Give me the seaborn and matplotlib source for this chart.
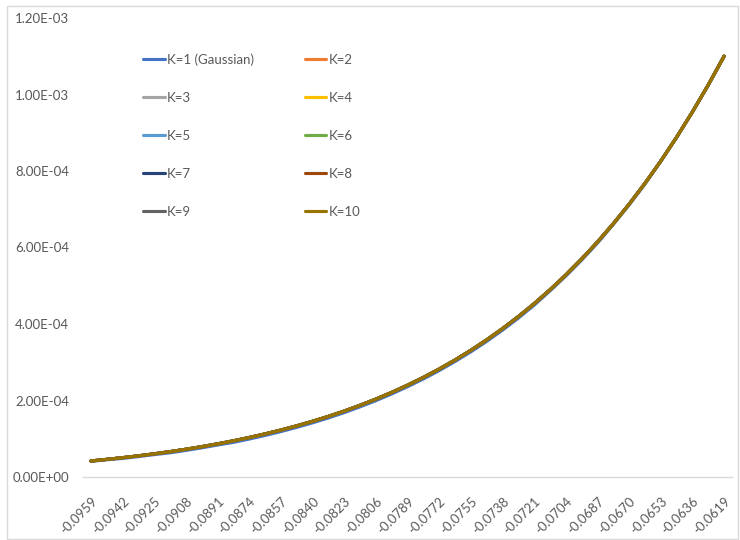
import matplotlib
matplotlib.use("Agg")
import matplotlib.pyplot as plt
from matplotlib.patches import Rectangle
from matplotlib.ticker import FuncFormatter, FixedLocator
import numpy as np
import pandas as pd
import seaborn as sns

# Category positions (log-return thresholds), step 0.00085
x_values = [
    -0.09590, -0.09505, -0.09420, -0.09335, -0.09250, -0.09165, -0.09080,
    -0.08995, -0.08910, -0.08825, -0.08740, -0.08655, -0.08570, -0.08485,
    -0.08400, -0.08315, -0.08230, -0.08145, -0.08060, -0.07975, -0.07890,
    -0.07805, -0.07720, -0.07635, -0.07550, -0.07465, -0.07380, -0.07295,
    -0.07210, -0.07125, -0.07040, -0.06955, -0.06870, -0.06785, -0.06700,
    -0.06615, -0.06530, -0.06445, -0.06360, -0.06275, -0.06190,
]

# Gaussian case (K=1)
k1_values = [
    4.090e-5, 4.506e-5, 4.849e-5, 5.332e-5, 5.857e-5, 6.328e-5, 6.950e-5,
    7.625e-5, 8.358e-5, 9.055e-5, 9.920e-5, 1.086e-4, 1.187e-4, 1.297e-4,
    1.416e-4, 1.544e-4, 1.683e-4, 1.834e-4, 1.996e-4, 2.171e-4, 2.360e-4,
    2.563e-4, 2.782e-4, 3.018e-4, 3.272e-4, 3.545e-4, 3.838e-4, 4.153e-4,
    4.491e-4, 4.864e-4, 5.252e-4, 5.669e-4, 6.114e-4, 6.602e-4, 7.112e-4,
    7.657e-4, 8.259e-4, 8.882e-4, 9.545e-4, 1.025e-3, 1.100e-3,
]

# Mixture cases K=2..10 (indistinguishable at this scale)
kmix_values = [
    4.190e-5, 4.606e-5, 5.049e-5, 5.532e-5, 6.057e-5, 6.628e-5, 7.250e-5,
    7.925e-5, 8.658e-5, 9.455e-5, 1.032e-4, 1.126e-4, 1.227e-4, 1.337e-4,
    1.456e-4, 1.584e-4, 1.723e-4, 1.874e-4, 2.036e-4, 2.211e-4, 2.400e-4,
    2.603e-4, 2.822e-4, 3.058e-4, 3.312e-4, 3.585e-4, 3.878e-4, 4.193e-4,
    4.531e-4, 4.894e-4, 5.282e-4, 5.699e-4, 6.144e-4, 6.622e-4, 7.132e-4,
    7.677e-4, 8.259e-4, 8.882e-4, 9.545e-4, 1.025e-3, 1.100e-3,
]

series_names = ["K=1 (Gaussian)", "K=2", "K=3", "K=4", "K=5",
                "K=6", "K=7", "K=8", "K=9", "K=10"]
series_colors = ["#4472C4", "#ED7D31", "#A5A5A5", "#FFC000", "#5B9BD5",
                 "#70AD47", "#264478", "#9E480E", "#636363", "#997300"]

y_ticks = [0.0, 2.0e-4, 4.0e-4, 6.0e-4, 8.0e-4, 1.0e-3, 1.2e-3]

sns.set_style("white")
plt.rcParams["font.family"] = ["Lato", "DejaVu Sans"]

text_color = "#595959"

frames = []
for name in series_names:
    vals = k1_values if name == "K=1 (Gaussian)" else kmix_values
    frames.append(pd.DataFrame({"pos": np.arange(len(x_values)),
                                "value": vals, "series": name}))
df = pd.concat(frames, ignore_index=True)

fig = plt.figure(figsize=(7.4, 5.4), dpi=100)
ax = fig.add_axes([83 / 740, 1 - 477 / 540, (732 - 83) / 740, (477 - 18) / 540])

sns.lineplot(data=df, x="pos", y="value", hue="series",
             hue_order=series_names, palette=series_colors,
             linewidth=2.25, sort=False, legend=False, ax=ax)

ax.set_xlim(-0.5, len(x_values) - 0.5)
ax.set_ylim(0, 1.2e-3)
ax.set_xlabel("")
ax.set_ylabel("")

ax.yaxis.set_major_locator(FixedLocator(y_ticks))
ax.yaxis.set_major_formatter(FuncFormatter(lambda v, p: f"{v:.2E}"))

label_pos = list(range(0, len(x_values), 2))
ax.set_xticks(label_pos)
ax.set_xticklabels([f"{x_values[i]:.4f}" for i in label_pos],
                   rotation=45, ha="right", rotation_mode="anchor")

ax.tick_params(axis="both", length=0, colors=text_color, labelsize=9.5)
ax.tick_params(axis="x", pad=13)
ax.tick_params(axis="y", pad=10)

for side in ["left", "right", "top"]:
    ax.spines[side].set_visible(False)
ax.spines["bottom"].set_color("#D9D9D9")
ax.spines["bottom"].set_linewidth(1.0)

# Legend laid out row by row in two columns
handles = ax.get_lines()[:len(series_names)]
order = [0, 2, 4, 6, 8, 1, 3, 5, 7, 9]
leg = fig.legend([handles[i] for i in order], [series_names[i] for i in order],
                 ncol=2, loc="upper left", bbox_to_anchor=(143 / 740, 1 - 53 / 540),
                 frameon=False, fontsize=9.5, handlelength=1.65,
                 handletextpad=0.15, columnspacing=3.85, labelspacing=1.98,
                 borderpad=0, borderaxespad=0)
for t in leg.get_texts():
    t.set_color(text_color)

# Chart-area border
fig.patches.append(Rectangle((7 / 740, 1 / 540), 731 / 740, 533 / 540,
                             transform=fig.transFigure, fill=False,
                             edgecolor="#D9D9D9", linewidth=1.0))

fig.savefig("out.png", dpi=100)
